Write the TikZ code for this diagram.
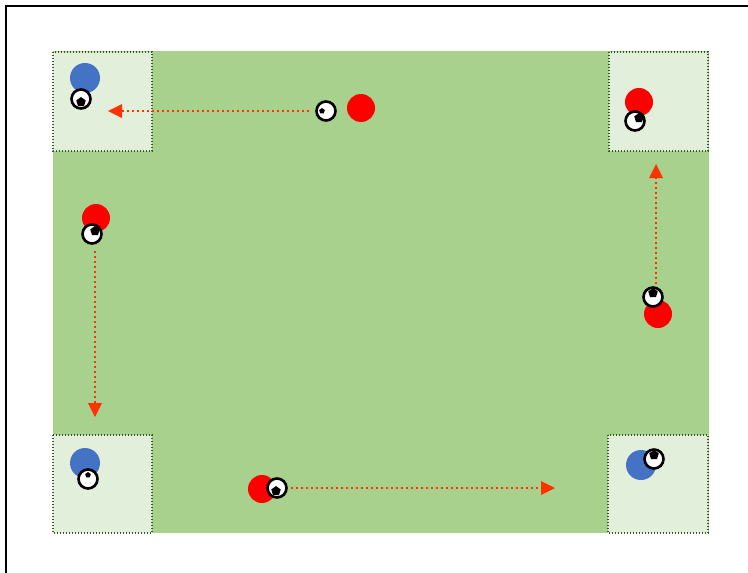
\documentclass[tikz,border=0pt]{standalone}
\usetikzlibrary{arrows.meta,shapes.geometric}
\definecolor{field}{HTML}{A9D18E}
\definecolor{zone}{HTML}{E2EFDA}
\definecolor{zoneline}{HTML}{375623}
\definecolor{bluep}{HTML}{4472C4}
\definecolor{redp}{HTML}{FF0000}
\definecolor{arr}{HTML}{FF3300}
\tikzset{
  zonebox/.style={draw=zoneline,fill=zone,line width=1.4pt,dash pattern=on 1.4pt off 1.6pt},
  blueplayer/.style={circle,fill=bluep,minimum size=30pt,inner sep=0pt},
  redplayer/.style={circle,fill=redp,minimum size=28pt,inner sep=0pt},
  ball/.style={circle,draw=black,fill=white,line width=2.6pt,minimum size=19pt,inner sep=0pt},
  patch/.style={regular polygon,regular polygon sides=5,fill=black,minimum size=10pt,inner sep=0pt},
  runarrow/.style={draw=arr,line width=2.4pt,dash pattern=on 2.4pt off 2.6pt,-{Triangle[length=14pt,width=14pt,line width=0pt]}},
}
\begin{document}
\begin{tikzpicture}[x=1pt,y=-1pt]
\useasboundingbox (0,0) rectangle (748,573);
% frame
\draw[line width=2pt] (6,573) -- (6,6) -- (748,6);
% field
\fill[field] (53,51) rectangle (709,533);
% zones
\draw[zonebox] (53,52) rectangle (152,151);
\draw[zonebox] (609,52) rectangle (708,151);
\draw[zonebox] (53,435) rectangle (152,533);
\draw[zonebox] (608,435) rectangle (708,533);
% arrows
\coordinate (a1s) at (309,111); \coordinate (a1e) at (108,111);
\coordinate (a2s) at (95,251);  \coordinate (a2e) at (95,417);
\coordinate (a3s) at (291,488); \coordinate (a3e) at (555,488);
\coordinate (a4s) at (656,284); \coordinate (a4e) at (656,164);
\draw[runarrow] (a1s) -- (a1e);
\draw[runarrow] (a2s) -- (a2e);
\draw[runarrow] (a3s) -- (a3e);
\draw[runarrow] (a4s) -- (a4e);
% players
\node[blueplayer] (b1) at (85,78) {};
\node[blueplayer] (b2) at (85,463) {};
\node[blueplayer] (b3) at (641,465) {};
\node[redplayer] (r1) at (361,108) {};
\node[redplayer] (r2) at (639,102) {};
\node[redplayer] (r3) at (96,218) {};
\node[redplayer] (r4) at (658,314) {};
\node[redplayer] (r5) at (262,489) {};
% balls
\node[ball] (k1) at (81,99) {};
\node[patch] at ([yshift=-3pt]k1.center) {};
\node[ball] (k2) at (326,111) {};
\node[patch,minimum size=6pt] at ([xshift=-4pt]k2.center) {};
\node[ball] (k3) at (635,121) {};
\node[patch] at ([xshift=4pt,yshift=3pt]k3.center) {};
\node[ball] (k4) at (92,234) {};
\node[patch] at ([xshift=3pt,yshift=3pt]k4.center) {};
\node[ball] (k5) at (653,297) {};
\node[patch] at ([yshift=4pt]k5.center) {};
\node[ball] (k6) at (88,479) {};
\node[patch,minimum size=6pt] at ([yshift=4pt]k6.center) {};
\node[ball] (k7) at (277,488) {};
\node[patch] at ([xshift=-1pt,yshift=-3pt]k7.center) {};
\node[ball] (k8) at (654,459) {};
\node[patch] at ([yshift=4pt]k8.center) {};
\end{tikzpicture}
\end{document}
